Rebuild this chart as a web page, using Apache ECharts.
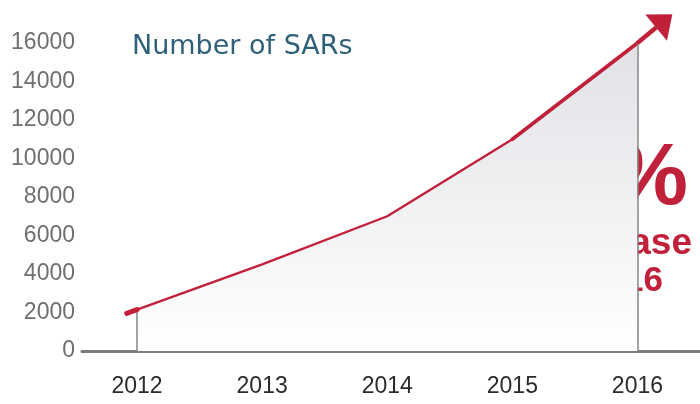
<!DOCTYPE html>
<html>
<head>
<meta charset="utf-8">
<script src="https://cdn.jsdelivr.net/npm/echarts@6/dist/echarts.min.js"></script>
<style>
  html, body { margin: 0; padding: 0; background: #fff; }
  #chart { width: 700px; height: 404px; }
</style>
</head>
<body>
<div id="chart"></div>
<script>
  // data
  var years = [2012, 2013, 2014, 2015, 2016];
  var sars = [2150, 4500, 7000, 11000, 16000];
  var yTicks = [0, 2000, 4000, 6000, 8000, 10000, 12000, 14000, 16000];

  var red = '#c1203a';
  var font = 'Liberation Sans';

  var chart = echarts.init(document.getElementById('chart'));

  var points = years.map(function (y, i) { return [y, sars[i]]; });

  var option = {
    animation: false,
    backgroundColor: '#fff',
    title: {
      text: 'Number of SARs',
      left: 127,
      top: 28,
      textStyle: { color: '#2e6079', fontSize: 27, fontWeight: 'normal', fontFamily: 'DejaVu Sans' }
    },
    grid: { left: 82, right: 0, top: 43, bottom: 53 },
    xAxis: {
      type: 'value',
      min: 2011.56,
      max: 2016.5,
      axisLine: { show: true, lineStyle: { color: '#7a7a7a', width: 3 } },
      axisTick: { show: false },
      splitLine: { show: false },
      axisLabel: {
        customValues: years,
        margin: 24,
        color: '#2b2b2b',
        fontSize: 23,
        fontFamily: font,
        formatter: function (v) { return String(v); }
      }
    },
    yAxis: {
      type: 'value',
      min: yTicks[0],
      max: yTicks[yTicks.length - 1],
      interval: 2000,
      axisLine: { show: false },
      axisTick: { show: false },
      splitLine: { show: false },
      axisLabel: {
        margin: 7,
        color: '#6f6f6f',
        fontSize: 23,
        fontFamily: font,
        formatter: function (v) { return String(v); }
      }
    },
    series: [{
      type: 'line',
      data: points,
      clip: false,
      symbol: 'none',
      lineStyle: { color: red, width: 2.4, cap: 'round' },
      areaStyle: {
        opacity: 1,
        color: new echarts.graphic.LinearGradient(0, 0, 0, 1, [
          { offset: 0, color: '#e1e2e6' },
          { offset: 1, color: '#ffffff' }
        ])
      },
      markLine: {
        silent: true,
        symbol: 'none',
        label: { show: false },
        lineStyle: { color: '#858585', width: 1.5, type: 'solid' },
        data: [
          [{ coord: [years[0], 0] }, { coord: [years[0], sars[0]] }],
          [{ coord: [years[4], 0] }, { coord: [years[4], sars[4]] }]
        ]
      }
    }, {
      // the line gets heavier towards the arrow
      type: 'line',
      data: points.slice(3),
      clip: false,
      symbol: 'none',
      lineStyle: { color: red, width: 3.6, cap: 'round' },
      z: 3
    }]
  };

  chart.setOption(option);

  // arrow head and start stub, placed from the data points in pixels
  var px = points.map(function (p) { return chart.convertToPixel({ gridIndex: 0 }, p); });
  function unit(a, b) {
    var dx = b[0] - a[0], dy = b[1] - a[1];
    var l = Math.sqrt(dx * dx + dy * dy);
    return [dx / l, dy / l];
  }
  var u0 = unit(px[0], px[1]);
  var stub = [px[0][0] - u0[0] * 11, px[0][1] - u0[1] * 11];

  var n = px.length;
  var u = unit(px[n - 2], px[n - 1]);
  var tip = [px[n - 1][0] + u[0] * 44, px[n - 1][1] + u[1] * 44 - 2];
  var ua = unit(px[n - 1], tip);
  var base = [tip[0] - ua[0] * 21, tip[1] - ua[1] * 21];
  var nrm = [-ua[1], ua[0]];
  var c1 = [base[0] + nrm[0] * 17, base[1] + nrm[1] * 17];
  var c2 = [base[0] - nrm[0] * 17, base[1] - nrm[1] * 17];

  chart.setOption({
    graphic: [
      { type: 'text', z: 0, style: { text: '%', x: 688, y: 180, align: 'right', verticalAlign: 'middle', fill: red, font: 'bold 88px "Liberation Sans"' } },
      { type: 'text', z: 0, style: { text: 'increase', x: 692, y: 244, align: 'right', verticalAlign: 'middle', fill: red, font: 'bold 37px "Liberation Sans"' } },
      { type: 'text', z: 0, style: { text: '2016', x: 663, y: 281, align: 'right', verticalAlign: 'middle', fill: red, font: 'bold 35px "Liberation Sans"' } },
      { type: 'line', z: 10, shape: { x1: stub[0], y1: stub[1], x2: px[0][0], y2: px[0][1] }, style: { stroke: red, lineWidth: 5, lineCap: 'round' } },
      { type: 'line', z: 10, shape: { x1: px[n - 1][0], y1: px[n - 1][1], x2: base[0], y2: base[1] }, style: { stroke: red, lineWidth: 4.5 } },
      { type: 'polygon', z: 10, shape: { points: [tip, c1, c2] }, style: { fill: red } }
    ]
  });
</script>
</body>
</html>
